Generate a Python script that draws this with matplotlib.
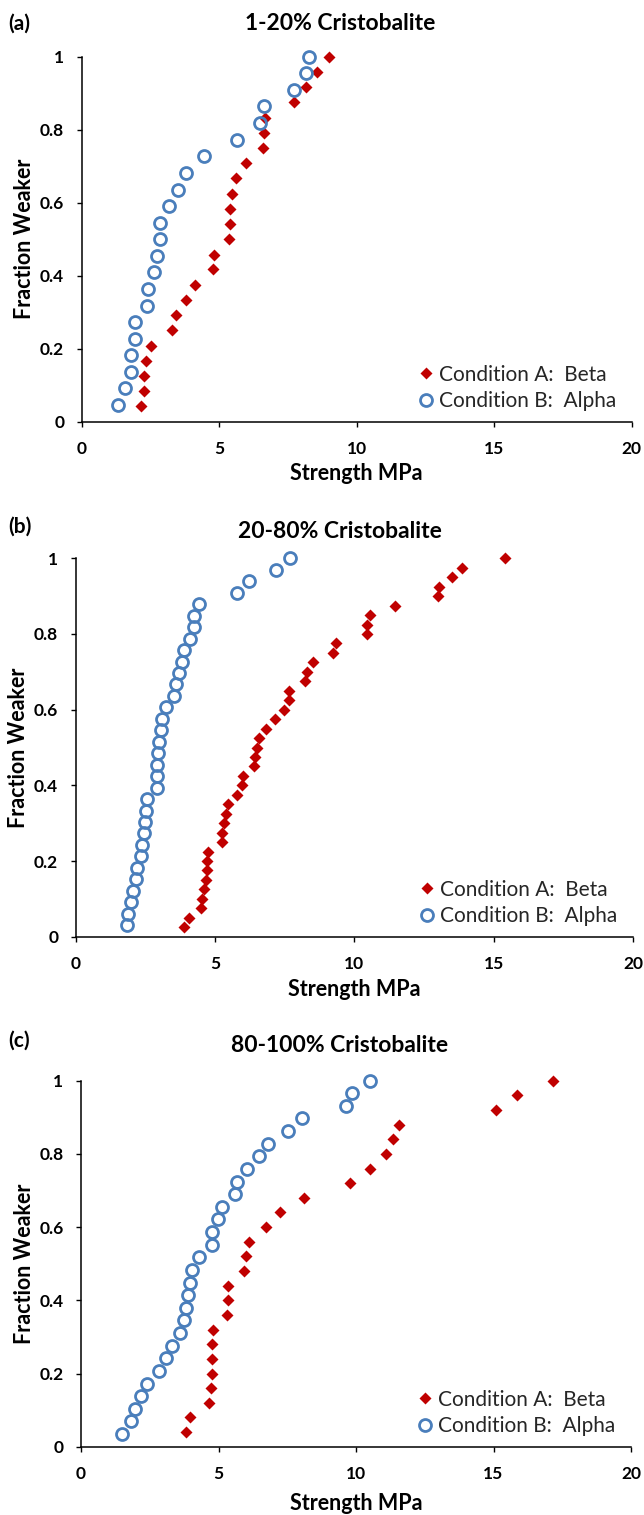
import matplotlib
matplotlib.use('Agg')
import matplotlib.pyplot as plt
from matplotlib.lines import Line2D

# data (strength MPa, fraction weaker)
titles = ['1-20% Cristobalite', '20-80% Cristobalite', '80-100% Cristobalite']
panel_tags = ['(a)', '(b)', '(c)']
legend_labels = ['Condition A:  Beta', 'Condition B:  Alpha']
x_ticks = [0, 5, 10, 15, 20]
y_ticks = [0, 0.2, 0.4, 0.6, 0.8, 1]
y_tick_labels = ['0', '0.2', '0.4', '0.6', '0.8', '1']

a_beta_x = [2.15, 2.28, 2.28, 2.34, 2.51, 3.30, 3.43, 3.79, 4.12, 4.78, 4.81, 5.35,
            5.39, 5.39, 5.45, 5.61, 5.96, 6.60, 6.63, 6.66, 7.71, 8.17, 8.54, 9.00]
a_beta_y = [0.042, 0.083, 0.125, 0.167, 0.208, 0.25, 0.292, 0.333, 0.375, 0.417, 0.458, 0.5,
            0.542, 0.583, 0.625, 0.667, 0.708, 0.75, 0.792, 0.833, 0.875, 0.917, 0.958, 1.0]
a_alpha_x = [1.31, 1.59, 1.78, 1.78, 1.92, 1.92, 2.36, 2.40, 2.64, 2.75, 2.85,
             2.85, 3.17, 3.49, 3.81, 4.44, 5.65, 6.48, 6.62, 7.72, 8.17, 8.26]
a_alpha_y = [0.045, 0.091, 0.136, 0.182, 0.227, 0.273, 0.318, 0.364, 0.409, 0.455, 0.5,
             0.545, 0.591, 0.636, 0.682, 0.727, 0.773, 0.818, 0.864, 0.909, 0.955, 1.0]

b_beta_x = [3.89, 4.08, 4.49, 4.55, 4.60, 4.66, 4.70, 4.72, 4.74, 5.26,
            5.26, 5.32, 5.38, 5.45, 5.80, 5.96, 5.99, 6.41, 6.44, 6.49,
            6.59, 6.82, 7.15, 7.48, 7.64, 7.66, 8.23, 8.29, 8.53, 9.22,
            9.34, 10.44, 10.47, 10.56, 11.46, 13.01, 13.05, 13.50, 13.85, 15.41]
b_beta_y = [0.025, 0.05, 0.075, 0.1, 0.125, 0.15, 0.175, 0.2, 0.225, 0.25,
            0.275, 0.3, 0.325, 0.35, 0.375, 0.4, 0.425, 0.45, 0.475, 0.5,
            0.525, 0.55, 0.575, 0.6, 0.625, 0.65, 0.675, 0.7, 0.725, 0.75,
            0.775, 0.8, 0.825, 0.85, 0.875, 0.9, 0.925, 0.95, 0.975, 1.0]
b_alpha_x = [1.83, 1.88, 1.97, 2.07, 2.17, 2.21, 2.34, 2.37, 2.45, 2.49, 2.52,
             2.57, 2.91, 2.91, 2.93, 2.94, 2.99, 3.05, 3.09, 3.24, 3.54, 3.60,
             3.71, 3.80, 3.89, 4.10, 4.25, 4.26, 4.44, 5.78, 6.22, 7.18, 7.69]
b_alpha_y = [0.030, 0.061, 0.091, 0.121, 0.152, 0.182, 0.212, 0.242, 0.273, 0.303, 0.333,
             0.364, 0.394, 0.424, 0.455, 0.485, 0.515, 0.545, 0.576, 0.606, 0.636, 0.667,
             0.697, 0.727, 0.758, 0.788, 0.818, 0.848, 0.879, 0.909, 0.939, 0.970, 1.0]

c_beta_x = [3.80, 3.98, 4.66, 4.72, 4.75, 4.75, 4.76, 4.81, 5.30, 5.33, 5.33, 5.93, 5.99,
            6.11, 6.71, 7.22, 8.12, 9.78, 10.51, 11.09, 11.35, 11.57, 15.08, 15.84, 17.15]
c_beta_y = [0.04, 0.08, 0.12, 0.16, 0.2, 0.24, 0.28, 0.32, 0.36, 0.4, 0.44, 0.48, 0.52,
            0.56, 0.6, 0.64, 0.68, 0.72, 0.76, 0.8, 0.84, 0.88, 0.92, 0.96, 1.0]
c_alpha_x = [1.49, 1.81, 1.98, 2.17, 2.41, 2.82, 3.10, 3.30, 3.60, 3.76, 3.80, 3.90, 3.96, 4.04,
             4.30, 4.75, 4.76, 4.99, 5.14, 5.60, 5.66, 6.05, 6.49, 6.80, 7.52, 8.04, 9.62, 9.87, 10.51]
c_alpha_y = [0.034, 0.069, 0.103, 0.138, 0.172, 0.207, 0.241, 0.276, 0.310, 0.345, 0.379, 0.414,
             0.448, 0.483, 0.517, 0.552, 0.586, 0.621, 0.655, 0.690, 0.724, 0.759, 0.793, 0.828,
             0.862, 0.897, 0.931, 0.966, 1.0]

panels = [
    (a_beta_x, a_beta_y, a_alpha_x, a_alpha_y),
    (b_beta_x, b_beta_y, b_alpha_x, b_alpha_y),
    (c_beta_x, c_beta_y, c_alpha_x, c_alpha_y),
]

# layout in pixels: (left, right, top, bottom) of each plot area
W, H = 644, 1515
boxes = [(81.7, 631.7, 56.7, 421.7),
         (75.7, 633.0, 558.3, 936.7),
         (81.0, 631.0, 1080.7, 1446.7)]
title_y = [23, 532, 1045]
tag_y = [24, 527, 1041]
ylabel_x = [25, 19, 25]
xlabel_y = [474, 990, 1503]

RED = '#C00000'
BLUE = '#4A7EBB'

plt.rcParams['font.family'] = ['Lato', 'DejaVu Sans']

fig = plt.figure(figsize=(W / 100, H / 100), dpi=100)


def fx(px):
    return px / W


def fy(py):
    return 1 - py / H


for i, (bx, by, ax_, ay) in enumerate(panels):
    left, right, top, bottom = boxes[i]
    ax = fig.add_axes([fx(left), fy(bottom), (right - left) / W, (bottom - top) / H])
    ax.plot(bx, by, 'D', color=RED, ms=6.4, mec='none', clip_on=False, zorder=3)
    ax.plot(ax_, ay, 'o', mfc='none', mec=BLUE, ms=8.6, mew=2.0, clip_on=False, zorder=4)
    ax.set_xlim(0, 20)
    ax.set_ylim(0, 1)
    ax.set_xticks(x_ticks)
    ax.set_yticks(y_ticks)
    ax.set_yticklabels(y_tick_labels)
    for s in ['top', 'right']:
        ax.spines[s].set_visible(False)
    for s in ['left', 'bottom']:
        ax.spines[s].set_linewidth(1.1)
        ax.spines[s].set_color('#000000')
    ax.tick_params(axis='both', direction='out', length=3.6, width=1.0, labelsize=12.5)
    ax.tick_params(axis='y', pad=9)
    ax.tick_params(axis='x', pad=10)
    for lab in ax.get_xticklabels() + ax.get_yticklabels():
        lab.set_fontweight('bold')

    handles = [Line2D([], [], ls='none', marker='D', color=RED, ms=6.4, mec='none'),
               Line2D([], [], ls='none', marker='o', mfc='none', mec=BLUE, ms=8.6, mew=2.0)]
    ax.legend(handles, legend_labels, loc='lower right', bbox_to_anchor=(0.99, 0.0),
              frameon=False, fontsize=15, handlelength=0.6, handletextpad=0.3,
              labelspacing=0.32, borderpad=0, labelcolor='#262626')

    cx = (left + right) / 2
    fig.text(fx(cx), fy(xlabel_y[i]), 'Strength MPa', ha='center', va='center',
             fontsize=15.5, fontweight='bold')
    fig.text(fx(ylabel_x[i]), fy((top + bottom) / 2), 'Fraction Weaker', ha='center',
             va='center', rotation=90, fontsize=15.5, fontweight='bold')
    fig.text(fx(340), fy(title_y[i]), titles[i], ha='center', va='center',
             fontsize=16.5, fontweight='bold')
    fig.text(fx(8), fy(tag_y[i]), panel_tags[i], ha='left', va='center',
             fontsize=15, fontweight='bold')

fig.savefig('out.png', dpi=100)
